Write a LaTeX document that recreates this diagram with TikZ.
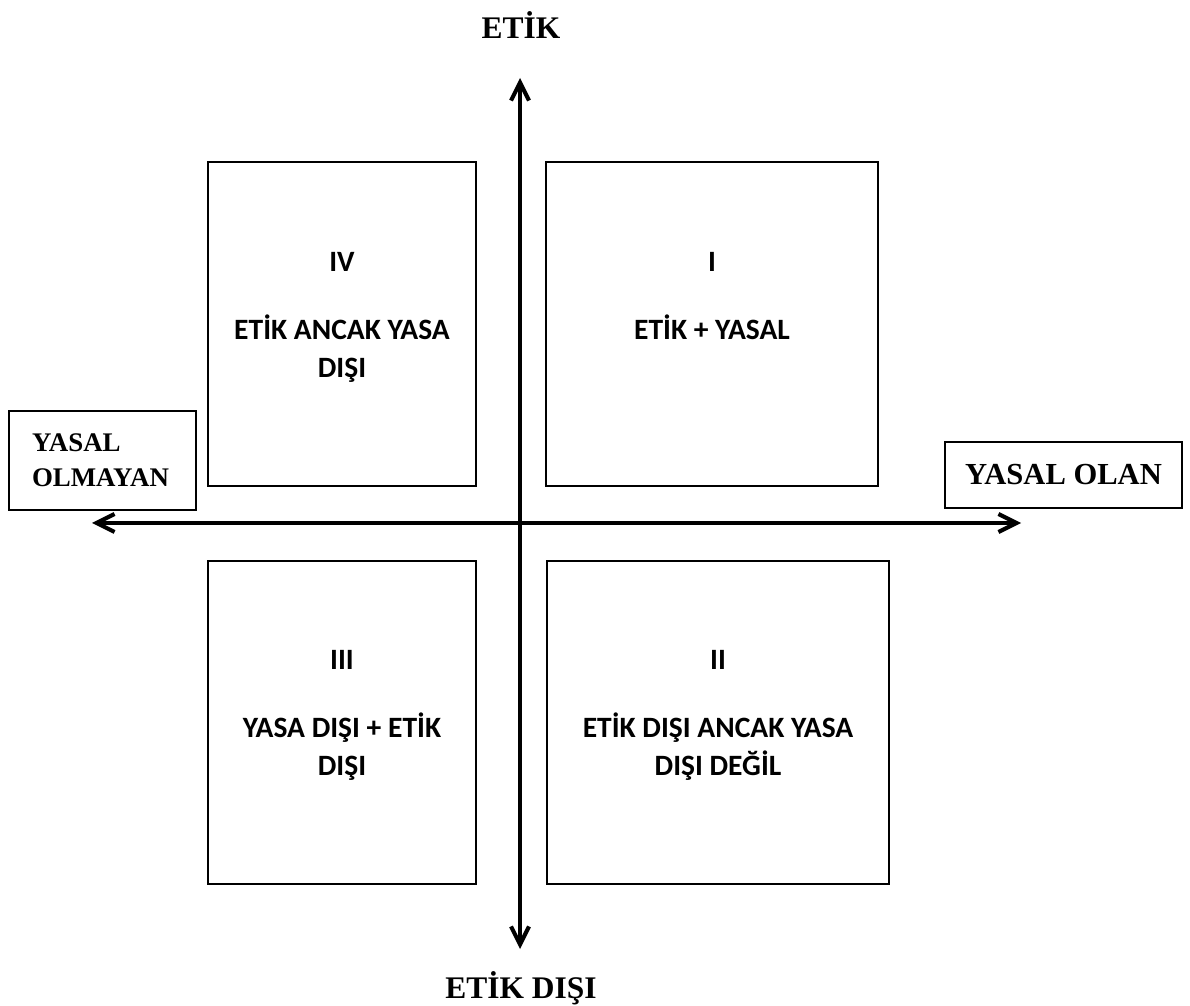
\documentclass[tikz,border=0pt]{standalone}
\usepackage{fontspec}
\setmainfont{Liberation Serif}
\newfontfamily\carlito{Carlito}
\usetikzlibrary{positioning,arrows.meta}
\begin{document}
\begin{tikzpicture}[
  x=0.02cm, y=-0.02cm,
  axis/.style={line width=2.3pt,
    {Straight Barb[length=3.6mm,width=3.6mm]}-{Straight Barb[length=3.6mm,width=3.6mm]}},
  quadrant/.style={draw, line width=1.1pt, inner sep=0pt, minimum height=6.47cm},
  qtext/.style={font=\carlito\bfseries\fontsize{16.8}{21.6}\selectfont, align=center, inner sep=0pt},
  axislabel/.style={font=\bfseries\fontsize{17.9}{20}\selectfont, inner sep=0pt},
  sidebox/.style={draw, line width=1.1pt}
]
\useasboundingbox (0,0) rectangle (1190,1006);
% quadrants
\node[quadrant, minimum width=5.36cm] (iv) at (342,324) {};
\node[quadrant, minimum width=6.64cm] (i) at (712,324) {};
\node[quadrant, minimum width=5.36cm] (iii) at (342,722.5) {};
\node[quadrant, minimum width=6.84cm] (ii) at (718,722.5) {};
\node[qtext, below=1.81cm of iv.north] {IV\\[17pt]ETİK ANCAK YASA\\DIŞI};
\node[qtext, below=1.81cm of i.north] {I\\[17pt]ETİK + YASAL};
\node[qtext, below=1.81cm of iii.north] {III\\[17pt]YASA DIŞI + ETİK\\DIŞI};
\node[qtext, below=1.81cm of ii.north] {II\\[17pt]ETİK DIŞI ANCAK YASA\\DIŞI DEĞİL};
% axes
\coordinate (top) at (520,78);
\coordinate (bottom) at (520,949);
\coordinate (left) at (92,523);
\coordinate (right) at (1021,523);
\draw[axis] (bottom) -- (top);
\draw[axis] (left) -- (right);
\node[axislabel] (etik) at (521,25) {ETİK};
\node[axislabel] (etikdisi) at (521,988) {ETİK DIŞI};
\node[sidebox, font=\bfseries\fontsize{15.3}{20}\selectfont, text width=2.82cm, align=left,
  inner xsep=0.46cm, minimum height=1.98cm] (yasaldisi) at (102.5,460.5) {YASAL\\OLMAYAN};
\node[sidebox, font=\bfseries\fontsize{17.4}{20}\selectfont, minimum width=4.74cm,
  minimum height=1.32cm] (yasal) at (1063.5,475) {YASAL OLAN};
\end{tikzpicture}
\end{document}
